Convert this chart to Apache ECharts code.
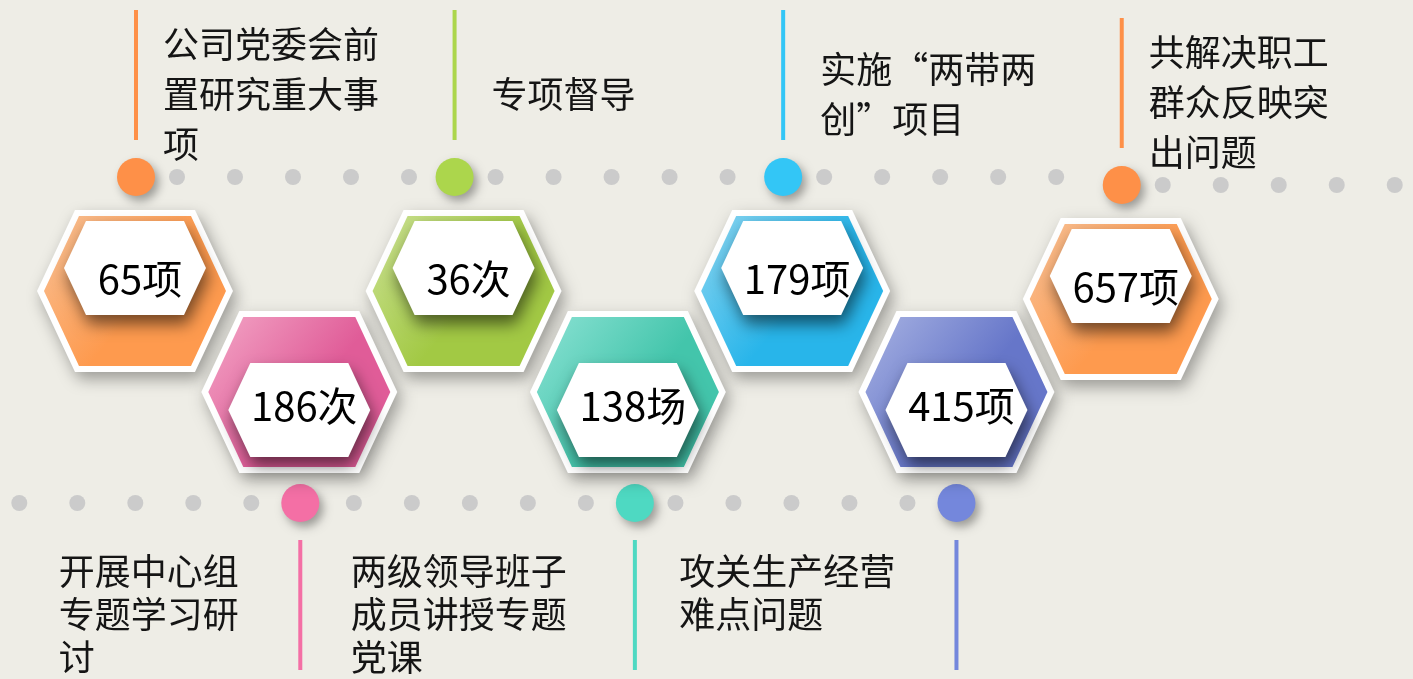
<!DOCTYPE html>
<html>
<head>
<meta charset="utf-8">
<title>hexagon timeline</title>
<script src="https://cdn.jsdelivr.net/npm/echarts@6/dist/echarts.min.js"></script>
<style>
  html, body { margin: 0; padding: 0; background: #eeede6; }
  #chart { width: 1413px; height: 679px; }
</style>
</head>
<body>
<div id="chart"></div>
<script>
// captions, wrapped the way the picture wraps them
const labels = [
  '公司党委会前\n置研究重大事\n项',
  '开展中心组\n专题学习研\n讨',
  '专项督导',
  '两级领导班子\n成员讲授专题\n党课',
  '实施“两带两\n创”项目',
  '攻关生产经营\n难点问题',
  '共解决职工\n群众反映突\n出问题'
]
const values = [65, 186, 36, 138, 179, 415, 657]
const units = ['项', '次', '次', '场', '项', '项', '项']
// 1 = upper row, 0 = lower row
const rows = [1, 0, 1, 0, 1, 0, 1]

// look of each hexagon: light corner, base fill, dot / stem colour
const palette = [
  { light: '#f8c196', base: '#fe9a4e', dot: '#fe9048' },
  { light: '#f3a6c6', base: '#e05c98', dot: '#f46fa5' },
  { light: '#cce294', base: '#a2c944', dot: '#acd64c' },
  { light: '#8ce2d4', base: '#43c5ab', dot: '#4ed9c2' },
  { light: '#8cd6f1', base: '#28b5ea', dot: '#33c6f6' },
  { light: '#a7b2e2', base: '#6676c9', dot: '#7487dc' },
  { light: '#f8c196', base: '#fe9a4e', dot: '#fe9048' }
]
// hand placement quirks of the original slide
const nudgeY = [0, 0, 0, 0, 0, 0, 8]
const dotShift = [1, 1, -9, 7, -9, 0, 1]

const chart = echarts.init(document.getElementById('chart'))

function hexPoints(cx, cy, hw, top, hh) {
  return [
    [cx - hw, cy], [cx - top, cy - hh], [cx + top, cy - hh],
    [cx + hw, cy], [cx + top, cy + hh], [cx - top, cy + hh]
  ]
}

const capFont = '"Noto Sans CJK SC", sans-serif'

function renderItem(params, api) {
  const i = params.dataIndex
  const up = api.value(1) === 1
  const p = api.coord([api.value(0), api.value(1)])
  const x = p[0]
  const y = p[1] + nudgeY[i]
  const dx0 = x + dotShift[i]
  const c = palette[i]
  const children = []

  // dotted timeline
  const dotY = up ? y - 114 : y + 111
  for (let k = 0; k < 5; k++) {
    const dx = up ? 41 + 58 * k : -49 - 58 * k
    children.push({
      type: 'circle',
      shape: { cx: dx0 + dx, cy: dotY, r: 8 },
      style: { fill: '#cbcbcb' }
    })
  }
  children.push({
    type: 'circle',
    shape: { cx: dx0, cy: dotY, r: 19 },
    style: {
      fill: c.dot,
      shadowBlur: 10,
      shadowColor: 'rgba(0,0,0,0.35)',
      shadowOffsetX: 4,
      shadowOffsetY: 5
    }
  })

  // stem + caption
  if (up) {
    children.push({
      type: 'rect',
      shape: { x: dx0 - 2, y: y - 281, width: 4, height: 130 },
      style: { fill: c.dot }
    })
    children.push({
      type: 'text',
      style: {
        text: labels[i],
        x: x + 28,
        y: y - 197,
        align: 'left',
        verticalAlign: 'middle',
        lineHeight: 50,
        fontSize: 36,
        fontFamily: capFont,
        fill: '#151515'
      }
    })
  } else {
    children.push({
      type: 'rect',
      shape: { x: dx0 - 2, y: y + 148, width: 4, height: 130 },
      style: { fill: c.dot }
    })
    const longest = Math.max.apply(null, labels[i].split('\n').map(s => s.length))
    children.push({
      type: 'text',
      style: {
        text: labels[i],
        x: x - 57 - longest * 36.7,
        y: y + 158,
        align: 'left',
        verticalAlign: 'top',
        lineHeight: 43,
        fontSize: 36,
        fontFamily: capFont,
        fill: '#151515'
      }
    })
  }

  // hexagon: white rim, coloured body, white plate
  children.push({
    type: 'polygon',
    shape: { points: hexPoints(x, y, 98, 60, 81) },
    style: {
      fill: '#ffffff',
      shadowBlur: 16,
      shadowColor: 'rgba(0,0,0,0.35)',
      shadowOffsetX: 4,
      shadowOffsetY: 7
    }
  })
  children.push({
    type: 'polygon',
    shape: { points: hexPoints(x, y, 91, 56, 75) },
    style: {
      fill: new echarts.graphic.LinearGradient(0, 0, 1, 1, [
        { offset: 0, color: c.light },
        { offset: 0.55, color: c.base },
        { offset: 1, color: c.base }
      ])
    }
  })
  const iy = up ? y - 23 : y + 18
  children.push({
    type: 'polygon',
    shape: { points: hexPoints(x, iy, 71, 49, 47) },
    style: {
      fill: '#ffffff',
      shadowBlur: 16,
      shadowColor: 'rgba(0,0,0,0.55)',
      shadowOffsetX: 3,
      shadowOffsetY: 9
    }
  })
  children.push({
    type: 'text',
    style: {
      text: api.value(2) + units[i],
      x: x + 5,
      y: up ? y - 12 : y + 14,
      align: 'center',
      verticalAlign: 'middle',
      fontSize: 40,
      fontFamily: capFont,
      fill: '#000000'
    }
  })

  return { type: 'group', children }
}

chart.setOption({
  backgroundColor: '#eeede6',
  animation: false,
  grid: { left: 52.85, right: 210.1, top: 291, bottom: 287 },
  xAxis: {
    type: 'category',
    data: labels,
    boundaryGap: true,
    show: false
  },
  yAxis: {
    type: 'value',
    min: 0,
    max: 1,
    show: false
  },
  series: [{
    type: 'custom',
    clip: false,
    renderItem: renderItem,
    encode: { x: 0, y: 1 },
    data: values.map((v, i) => [i, rows[i], v])
  }]
})
</script>
</body>
</html>
